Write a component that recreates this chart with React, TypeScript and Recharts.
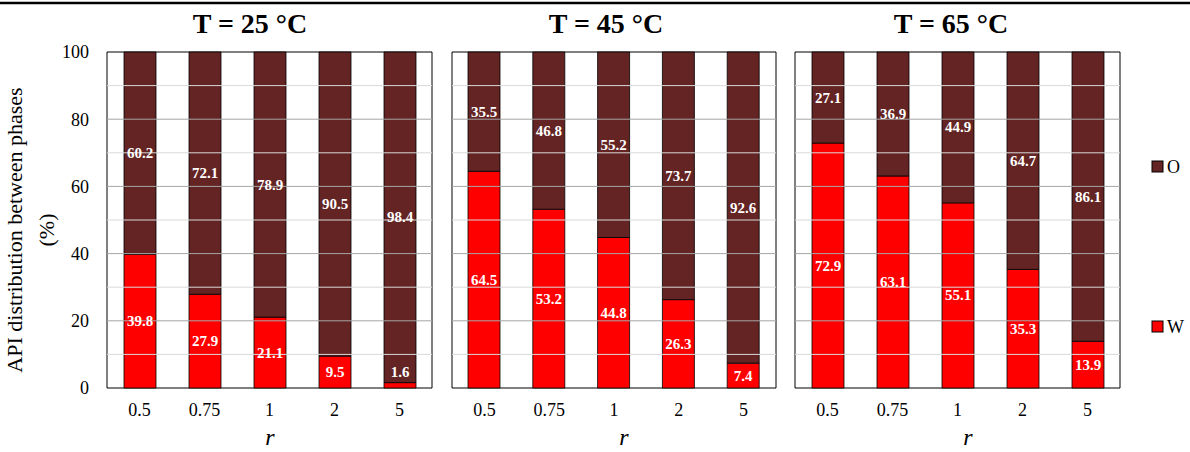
import React from 'react';
import { BarChart, Bar, XAxis, YAxis, ReferenceLine, ReferenceArea, LabelList } from 'recharts';

// Molar ratio categories and API share (%) in the water (W) and organic (O) phases
const ratios = ['0.5', '0.75', '1', '2', '5'];

const water25 = [39.8, 27.9, 21.1, 9.5, 1.6];
const organic25 = [60.2, 72.1, 78.9, 90.5, 98.4];
const water45 = [64.5, 53.2, 44.8, 26.3, 7.4];
const organic45 = [35.5, 46.8, 55.2, 73.7, 92.6];
const water65 = [72.9, 63.1, 55.1, 35.3, 13.9];
const organic65 = [27.1, 36.9, 44.9, 64.7, 86.1];

const temperatures = ['T = 25 °C', 'T = 45 °C', 'T = 65 °C'];
const yTicks = [0, 20, 40, 60, 80, 100];
const majorGrid = [20, 40, 60, 80];
const minorGrid = [10, 30, 50, 70, 90];

const seriesNames = ['O', 'W'];
const COLORS: Record<string, string> = { O: '#632423', W: '#ff0000' };

const FONT = '"Liberation Serif", "Times New Roman", serif';
const SMALL_SEGMENT = 4; // % below which the W label sits above its segment

const build = (w: number[], o: number[]) => ratios.map((r, i) => ({ r, W: w[i], O: o[i] }));

const panels = [
  { title: temperatures[0], data: build(water25, organic25), water: water25, left: 0, width: 440, marginLeft: 0, showY: true, titleX: 250, axisTitleX: 270 },
  { title: temperatures[1], data: build(water45, organic45), water: water45, left: 444, width: 340, marginLeft: 8, showY: false, titleX: 606, axisTitleX: 624 },
  { title: temperatures[2], data: build(water65, organic65), water: water65, left: 787, width: 341, marginLeft: 8, showY: false, titleX: 951, axisTitleX: 968 },
];

const labelStyle = {
  fill: '#ffffff',
  fontFamily: FONT,
  fontWeight: 700,
  fontSize: 15,
};

const Panel = ({ p }: { p: typeof panels[number] }) => {
  const waterLabel = (props: any) => {
    const { x, y, width, height, value } = props;
    if (value < SMALL_SEGMENT) return null;
    return (
      <text x={x + width / 2} y={y + height / 2} textAnchor="middle" dominantBaseline="central" style={labelStyle}>
        {value.toFixed(1)}
      </text>
    );
  };
  const organicLabel = (props: any) => {
    const { x, y, width, height, value, index } = props;
    const w = p.water[index];
    return (
      <g>
        <text x={x + width / 2} y={y + height / 2} textAnchor="middle" dominantBaseline="central" style={labelStyle}>
          {value.toFixed(1)}
        </text>
        {w < SMALL_SEGMENT && (
          <text x={x + width / 2} y={y + height - 10.5} textAnchor="middle" dominantBaseline="central" style={labelStyle}>
            {w.toFixed(1)}
          </text>
        )}
      </g>
    );
  };

  return (
    <div style={{ position: 'absolute', left: p.left, top: 0 }}>
      <BarChart
        width={p.width}
        height={452}
        data={p.data}
        margin={{ top: 52, right: 8, bottom: 0, left: p.marginLeft }}
        barSize={32}
      >
        <XAxis
          dataKey="r"
          height={64}
          axisLine={false}
          tickLine={false}
          tickMargin={9}
          tick={{ fill: '#000', fontFamily: FONT, fontSize: 18 }}
        />
        <YAxis
          type="number"
          domain={[0, 100]}
          ticks={yTicks}
          hide={!p.showY}
          width={p.showY ? 107 : 0}
          axisLine={false}
          tickLine={false}
          tickMargin={12}
          tick={{ fill: '#000', fontFamily: FONT, fontSize: 18 }}
        />
        {minorGrid.map((v) => (
          <ReferenceLine key={'m' + v} y={v} stroke="#d9d9d9" strokeWidth={1} />
        ))}
        {majorGrid.map((v) => (
          <ReferenceLine key={'M' + v} y={v} stroke="#a6a6a6" strokeWidth={1} />
        ))}
        <Bar dataKey="W" stackId="a" fill={COLORS.W} stroke="#000" strokeWidth={0.8} isAnimationActive={false}>
          <LabelList dataKey="W" content={waterLabel} />
        </Bar>
        <Bar dataKey="O" stackId="a" fill={COLORS.O} stroke="#000" strokeWidth={0.8} isAnimationActive={false}>
          <LabelList dataKey="O" content={organicLabel} />
        </Bar>
        <ReferenceArea y1={0} y2={100} fill="none" stroke="#000" strokeWidth={1} ifOverflow="visible" />
      </BarChart>
    </div>
  );
};

export default function App() {
  return (
    <div style={{ position: 'absolute', left: 0, top: 0, width: 1190, height: 452, background: '#fff', fontFamily: FONT }}>
      {panels.map((p) => (
        <Panel key={p.title} p={p} />
      ))}
      <svg width={1190} height={452} style={{ position: 'absolute', left: 0, top: 0, pointerEvents: 'none' }}>
        <line x1={0} x2={1190} y1={3} y2={3} stroke="#000" strokeWidth={2.5} />
        {panels.map((p) => (
          <text key={p.title} x={p.titleX} y={23} textAnchor="middle" dominantBaseline="central"
            style={{ fontFamily: FONT, fontWeight: 700, fontSize: 28, fill: '#000' }}>
            {p.title}
          </text>
        ))}
        {panels.map((p) => (
          <text key={'r' + p.title} x={p.axisTitleX} y={437} textAnchor="middle" dominantBaseline="central"
            style={{ fontFamily: FONT, fontStyle: 'italic', fontSize: 24, fill: '#000' }}>
            r
          </text>
        ))}
        <g transform="translate(14,230) rotate(-90)">
          <text x={0} y={0} textAnchor="middle" dominantBaseline="central"
            style={{ fontFamily: FONT, fontSize: 22, fill: '#000' }}>
            API distribution between phases
          </text>
        </g>
        <g transform="translate(46,230) rotate(-90)">
          <text x={0} y={0} textAnchor="middle" dominantBaseline="central"
            style={{ fontFamily: FONT, fontSize: 22, fill: '#000' }}>
            (%)
          </text>
        </g>
        {seriesNames.map((name, i) => (
          <g key={name}>
            <rect x={1152} y={161 + i * 160} width={11} height={11} fill={COLORS[name]} stroke="#000" strokeWidth={1} />
            <text x={1167} y={166.5 + i * 160} dominantBaseline="central"
              style={{ fontFamily: FONT, fontSize: 18, fill: '#000' }}>
              {name}
            </text>
          </g>
        ))}
      </svg>
    </div>
  );
}
